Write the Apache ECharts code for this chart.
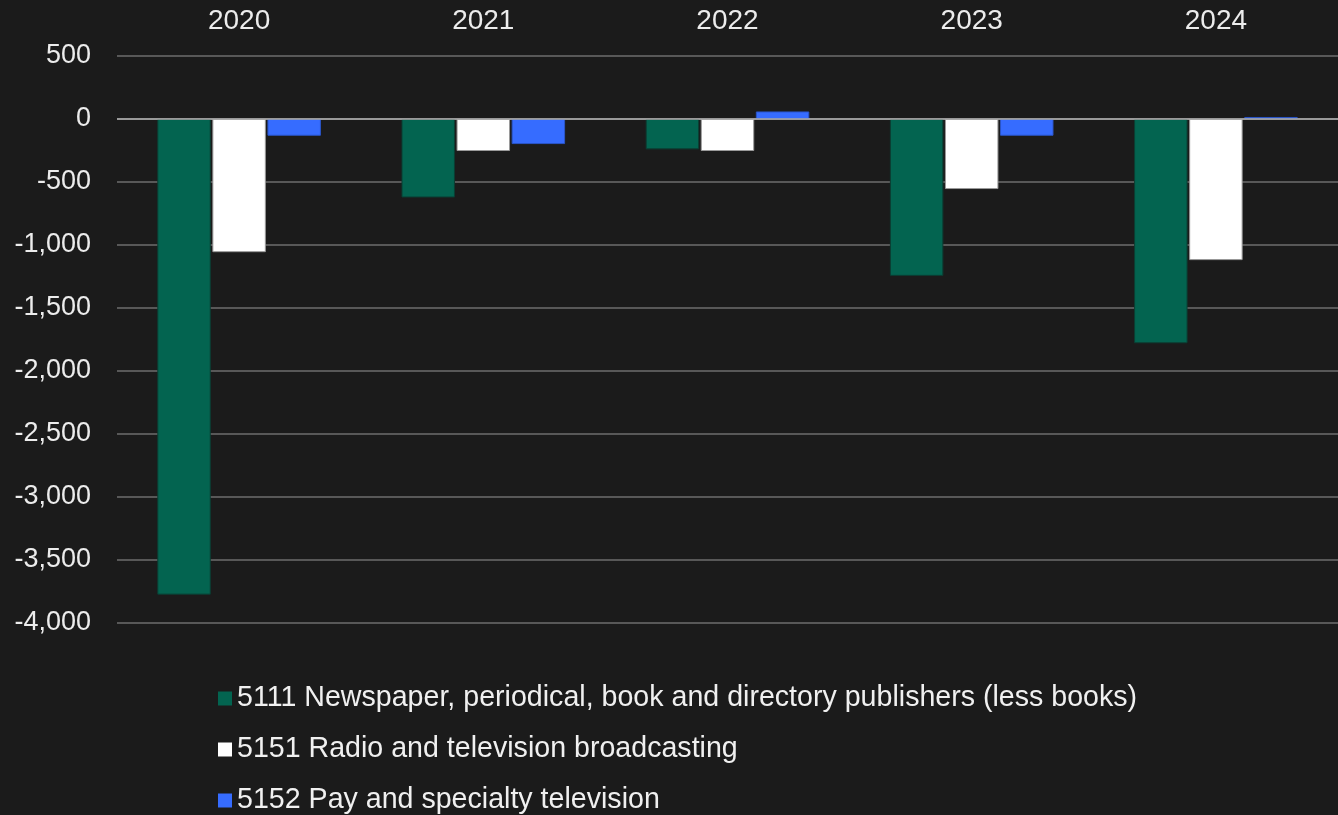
<!DOCTYPE html>
<html>
<head>
<meta charset="utf-8">
<script src="https://cdn.jsdelivr.net/npm/echarts@6/dist/echarts.min.js"></script>
<style>
  html, body { margin: 0; padding: 0; background: #1b1b1b; }
  #chart { width: 1338px; height: 815px; }
</style>
</head>
<body>
<div id="chart"></div>
<script>
// Year-over-year change by industry
const years = ['2020', '2021', '2022', '2023', '2024'];
const publishers = [-3775, -623, -241, -1245, -1780];
const broadcasting = [-1057, -254, -254, -556, -1120];
const payTv = [-133, -199, 60, -133, 16];
const seriesNames = [
  '5111 Newspaper, periodical, book and directory publishers (less books)',
  '5151 Radio and television broadcasting',
  '5152 Pay and specialty television'
];

const font = 'Liberation Sans, Arial, sans-serif';
const chart = echarts.init(document.getElementById('chart'));

function bar(name, data, color, border) {
  return {
    name: name,
    type: 'bar',
    data: data,
    barCategoryGap: '33%',
    barGap: '3%',
    itemStyle: { color: color, borderColor: border, borderWidth: 1 }
  };
}

const series = [
  bar(seriesNames[0], publishers, '#036450', '#0b3e33'),
  bar(seriesNames[1], broadcasting, '#ffffff', '#9a9a9a'),
  bar(seriesNames[2], payTv, '#366cff', '#2a55c8')
];
// brighter baseline at zero
series[2].markLine = {
  silent: true,
  symbol: 'none',
  label: { show: false },
  lineStyle: { color: '#b0b0b0', width: 1.5, type: 'solid' },
  data: [{ yAxis: 0 }]
};

chart.setOption({
  backgroundColor: '#1b1b1b',
  animation: false,
  grid: { left: 117, right: 0, top: 56, height: 567 },
  xAxis: {
    type: 'category',
    position: 'top',
    data: years,
    axisLine: { show: false },
    axisTick: { show: false },
    axisLabel: { color: '#ececec', fontSize: 28, fontFamily: font, margin: 21 }
  },
  yAxis: {
    type: 'value',
    min: -4000,
    max: 500,
    interval: 500,
    axisLine: { show: false },
    axisTick: { show: false },
    axisLabel: {
      color: '#ececec', fontSize: 27, fontFamily: font, margin: 26,
      padding: [6, 0, 0, 0],
      formatter: v => v.toLocaleString('en-US')
    },
    splitLine: { lineStyle: { color: '#6e6e6e', width: 1.5 } }
  },
  legend: {
    orient: 'vertical',
    left: 218,
    top: 684,
    height: 131,
    padding: 0,
    itemGap: 22,
    itemWidth: 14,
    itemHeight: 14,
    icon: 'rect',
    itemStyle: { borderWidth: 0 },
    textStyle: { color: '#f0f0f0', fontSize: 28.6, fontFamily: font, padding: 0 },
    data: seriesNames
  },
  series: series
});
</script>
</body>
</html>
